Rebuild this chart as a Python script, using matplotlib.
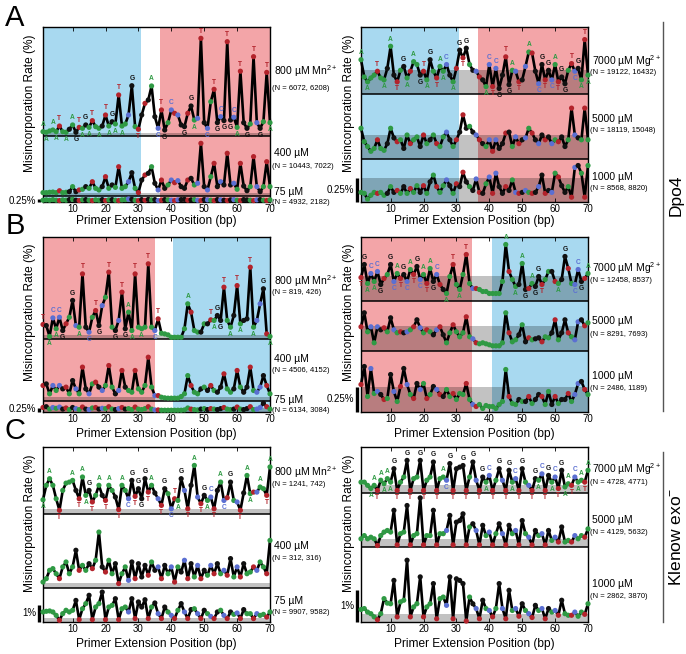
import matplotlib
matplotlib.use("Agg")
import matplotlib.pyplot as plt
import matplotlib.transforms as mtransforms
from matplotlib.lines import Line2D

plt.rcParams['font.family'] = ['Liberation Sans', 'DejaVu Sans']
plt.rcParams['mathtext.fontset'] = 'custom'
plt.rcParams['mathtext.rm'] = 'Liberation Sans'
plt.rcParams['mathtext.it'] = 'Liberation Sans:italic'
plt.rcParams['mathtext.bf'] = 'Liberation Sans:bold'

# ---------------- data ----------------
positions = list(range(1, 71))
xticks = [10, 20, 30, 40, 50, 60, 70]

seq_A = "AAAAATAAGAGTAGATAAGTAGATAACGATGTGAGCTGACTCGGTGACTGCATGCGTGCATGGATCGATA"
seq_B = "TGACACGTAGCATGCATGCATAGCTGAATAAATACTAAAAAAAAATAAGAGTAGGTAAGTAGGTACCGTA"
seq_C = "AAAAATAAAAGTAAGTAAGTAAGTAACGTGGGTAGCTGACTAGCTGACTGACTGACTGACTGAATCAATA"

# Row A, Dpo4 (Mn2+ left, Mg2+ right), misincorporation rate (%)
a_mn800 = [0.36,0.31,0.42,0.50,0.36,0.83,0.36,0.31,0.56,0.92,
           0.31,0.72,0.64,0.92,0.72,1.28,0.78,0.64,0.83,1.75,
           0.83,1.19,1.00,3.42,0.83,1.00,1.75,4.19,0.78,0.56,
           1.75,2.72,3.00,4.17,1.61,0.64,2.17,0.50,1.11,2.17,
           1.89,1.75,0.92,0.78,1.89,2.50,1.33,1.47,8.14,1.11,
           0.64,2.86,3.89,1.11,1.61,1.28,7.86,1.33,1.56,0.72,
           5.40,1.11,0.64,1.00,6.61,1.11,0.64,1.19,5.30,1.11]
a_mn400 = [0.28,0.28,0.31,0.33,0.28,0.44,0.28,0.31,0.36,0.78,
           0.36,0.50,0.56,0.78,0.64,1.19,0.64,0.50,0.78,1.61,
           0.64,0.92,0.72,2.44,0.64,0.78,1.19,1.94,0.64,0.28,
           1.33,1.75,1.89,2.44,1.06,0.50,1.33,0.64,0.92,1.33,
           1.11,1.28,0.78,0.64,1.33,1.47,0.92,1.06,4.39,0.78,
           0.50,1.61,2.72,0.78,1.19,0.92,3.56,0.92,1.06,0.56,
           2.72,0.83,0.44,0.78,3.28,0.78,0.36,0.78,2.86,0.78]
a_mn75 = [0.15,0.18,0.15,0.20,0.15,0.12,0.18,0.15,0.20,0.22,
          0.15,0.12,0.18,0.20,0.15,0.12,0.18,0.15,0.20,0.12,
          0.18,0.20,0.15,0.12,0.18,0.20,0.25,0.22,0.15,0.12,
          0.20,0.15,0.22,0.18,0.20,0.12,0.15,0.20,0.18,0.15,
          0.12,0.18,0.20,0.22,0.15,0.18,0.20,0.15,0.12,0.20,
          0.18,0.15,0.12,0.20,0.18,0.15,0.12,0.18,0.20,0.15,
          0.12,0.20,0.18,0.15,0.12,0.18,0.20,0.15,0.12,0.18]
a_mg7000 = [0.36,0.18,0.13,0.17,0.20,0.24,0.17,0.15,0.27,0.50,
            0.20,0.13,0.25,0.29,0.17,0.24,0.34,0.31,0.20,0.24,
            0.15,0.36,0.24,0.17,0.29,0.24,0.31,0.20,0.13,0.27,
            0.46,0.38,0.48,0.31,0.25,0.24,0.18,0.15,0.08,0.31,
            0.08,0.27,0.06,0.20,0.39,0.10,0.25,0.24,0.13,0.15,
            0.29,0.44,0.43,0.24,0.11,0.31,0.15,0.25,0.15,0.31,
            0.13,0.18,0.11,0.25,0.32,0.24,0.27,0.15,0.57,0.20]
a_mg5000 = [0.32,0.18,0.13,0.08,0.11,0.20,0.11,0.09,0.16,0.32,
            0.22,0.18,0.20,0.11,0.25,0.16,0.20,0.23,0.13,0.25,
            0.16,0.20,0.25,0.16,0.13,0.23,0.28,0.20,0.13,0.20,
            0.28,0.46,0.32,0.34,0.28,0.25,0.20,0.16,0.13,0.20,
            0.08,0.20,0.11,0.16,0.27,0.28,0.13,0.23,0.16,0.20,
            0.22,0.32,0.27,0.20,0.16,0.25,0.20,0.23,0.16,0.20,
            0.18,0.23,0.13,0.20,0.53,0.25,0.22,0.20,0.53,0.20]
a_mg1000 = [0.10,0.09,0.03,0.07,0.10,0.09,0.10,0.07,0.09,0.16,
            0.10,0.12,0.09,0.16,0.09,0.14,0.10,0.17,0.10,0.17,
            0.09,0.21,0.28,0.16,0.10,0.17,0.23,0.17,0.09,0.19,
            0.16,0.31,0.21,0.16,0.12,0.24,0.10,0.09,0.19,0.26,
            0.09,0.30,0.16,0.09,0.16,0.12,0.23,0.10,0.09,0.10,
            0.12,0.10,0.09,0.10,0.16,0.28,0.09,0.12,0.10,0.30,
            0.26,0.17,0.10,0.16,0.05,0.36,0.38,0.30,0.05,0.38]

# Row B, Dpo4 second template
b_mn800 = [0.90,0.83,0.15,1.31,0.63,1.35,0.52,0.94,1.35,2.40,
           0.83,0.73,4.06,0.73,0.42,1.35,1.77,0.83,2.08,2.60,
           4.17,0.73,0.52,1.15,2.92,0.63,1.67,0.52,4.06,0.73,
           0.63,0.73,4.69,0.73,0.52,1.25,0.35,0.31,0.25,0.10,
           0.10,0.10,0.10,0.63,2.19,1.67,0.52,0.42,0.42,0.94,
           0.94,1.19,1.15,1.46,1.15,3.23,1.15,0.73,1.46,3.33,
           0.94,1.15,1.25,4.48,0.73,1.15,2.19,3.13,0.31,0.15]
b_mn400 = [0.98,1.08,0.46,0.98,0.67,0.98,0.77,0.88,0.46,1.29,
           0.77,0.46,2.13,0.77,0.46,1.08,1.19,0.88,0.67,0.98,
           2.23,0.88,0.46,0.67,1.92,0.88,0.67,0.56,1.92,0.77,
           0.56,0.98,2.75,0.88,0.35,0.35,0.25,0.21,0.19,0.19,
           0.19,0.19,0.29,0.46,1.60,0.98,0.56,0.46,0.77,0.88,
           0.67,0.98,0.67,0.56,0.88,1.71,0.77,0.56,0.77,1.92,
           0.88,0.56,0.88,2.13,0.67,0.56,0.88,1.60,0.98,0.46]
b_mn75 = [0.25,0.30,0.15,0.25,0.20,0.28,0.15,0.22,0.12,0.25,
          0.18,0.12,0.28,0.15,0.12,0.22,0.25,0.15,0.20,0.18,
          0.30,0.15,0.12,0.18,0.25,0.15,0.18,0.12,0.28,0.15,
          0.12,0.18,0.30,0.15,0.10,0.10,0.08,0.08,0.08,0.08,
          0.08,0.08,0.08,0.10,0.22,0.15,0.12,0.10,0.15,0.18,
          0.12,0.18,0.15,0.12,0.18,0.25,0.15,0.12,0.15,0.28,
          0.15,0.12,0.18,0.30,0.12,0.15,0.25,0.52,0.30,0.15]
b_mg7000 = [0.23,0.36,0.17,0.27,0.19,0.29,0.16,0.22,0.26,0.36,
            0.19,0.27,0.22,0.26,0.19,0.31,0.26,0.34,0.21,0.26,
            0.17,0.32,0.19,0.26,0.16,0.11,0.07,0.24,0.36,0.16,
            0.11,0.26,0.46,0.17,0.12,0.12,0.11,0.09,0.09,0.07,
            0.07,0.07,0.07,0.19,0.56,0.29,0.21,0.14,0.16,0.37,
            0.11,0.12,0.17,0.14,0.24,0.16,0.21,0.29,0.29,0.19,
            0.17,0.21,0.44,0.32,0.17,0.16,0.31,0.19,0.22,0.27]
b_mg5000 = [0.24,0.38,0.19,0.24,0.08,0.24,0.21,0.23,0.19,0.33,
            0.21,0.18,0.19,0.18,0.19,0.21,0.24,0.31,0.23,0.18,
            0.21,0.19,0.16,0.21,0.24,0.16,0.08,0.18,0.26,0.19,
            0.14,0.18,0.34,0.14,0.12,0.08,0.07,0.08,0.07,0.06,
            0.05,0.05,0.05,0.08,0.38,0.18,0.09,0.11,0.16,0.26,
            0.09,0.13,0.11,0.12,0.13,0.09,0.14,0.13,0.18,0.31,
            0.11,0.18,0.31,0.18,0.14,0.11,0.29,0.31,0.25,0.28]
b_mg1000 = [0.27,0.45,0.15,0.43,0.18,0.20,0.17,0.12,0.13,0.37,
            0.20,0.10,0.25,0.43,0.27,0.17,0.13,0.28,0.22,0.28,
            0.13,0.17,0.25,0.22,0.17,0.15,0.22,0.15,0.18,0.12,
            0.18,0.17,0.28,0.12,0.07,0.05,0.07,0.03,0.06,0.05,
            0.05,0.03,0.07,0.10,0.42,0.15,0.08,0.07,0.12,0.10,
            0.10,0.15,0.08,0.12,0.17,0.15,0.07,0.20,0.07,0.15,
            0.08,0.12,0.12,0.18,0.10,0.17,0.28,0.30,0.22,0.17]

# Row C, Klenow exo-
c_mn800 = [0.82,1.67,2.06,1.67,0.88,0.20,1.37,1.80,1.86,1.96,
           1.37,0.88,2.16,1.08,1.37,0.69,1.08,1.67,1.08,0.78,
           1.67,1.37,0.98,0.24,1.67,1.37,0.88,1.96,1.02,1.47,
           0.88,2.06,1.27,1.67,1.22,0.88,0.49,1.47,1.18,0.29,
           0.88,0.78,2.06,1.37,0.29,1.67,2.84,0.98,0.59,1.08,
           0.78,0.98,0.29,1.37,1.86,0.78,0.94,1.86,0.78,0.69,
           0.20,1.22,2.25,1.18,1.27,1.27,1.57,1.47,1.08,2.75]
c_mn400 = [0.33,0.53,1.02,1.12,0.82,0.53,1.22,1.51,0.82,1.22,
           2.20,1.02,1.31,1.02,1.41,1.12,1.61,3.27,1.22,0.92,
           1.61,0.82,1.41,0.24,0.82,1.22,0.43,1.51,0.53,1.41,
           0.63,1.31,0.73,1.51,1.02,1.22,0.53,1.31,0.82,1.22,
           0.33,1.22,0.92,1.61,0.53,1.41,0.63,1.31,0.53,1.02,
           0.73,1.31,0.82,1.41,0.82,1.02,0.73,1.71,0.63,1.22,
           0.63,1.41,0.82,0.92,1.22,1.02,1.51,1.22,0.82,2.78]
c_mn75 = [0.59,0.63,0.65,0.59,0.39,0.10,0.49,0.69,0.59,0.69,
          1.27,0.14,0.78,1.08,1.57,0.14,0.88,1.08,1.76,0.14,
          0.88,0.98,1.37,0.14,0.78,0.88,0.59,1.37,0.20,1.18,
          0.88,1.31,0.20,0.88,1.12,0.49,0.20,0.88,0.59,0.39,
          0.20,0.69,1.08,0.59,0.20,0.73,0.78,0.49,0.20,0.69,
          0.49,0.33,0.20,0.59,0.69,0.39,0.20,0.59,0.45,0.53,
          0.20,0.73,0.49,0.49,0.20,0.49,0.39,0.45,0.29,0.59]
c_mg7000 = [0.34,0.34,0.24,0.14,0.24,0.08,0.40,0.29,0.45,0.34,
            0.76,0.08,0.34,0.50,1.02,0.08,0.45,0.50,1.02,0.08,
            0.40,0.50,0.97,0.08,0.45,0.50,0.40,0.92,0.08,0.76,
            0.81,0.86,0.08,0.50,0.97,0.40,0.08,0.50,0.34,0.55,
            0.08,0.40,0.76,0.40,0.08,0.71,0.34,0.45,0.08,0.76,
            0.34,0.24,0.08,0.45,0.40,0.60,0.08,0.55,0.34,0.50,
            0.14,0.71,0.19,0.29,0.24,0.50,0.34,0.40,0.34,0.71]
c_mg5000 = [0.26,0.36,0.26,0.31,0.26,0.05,0.36,0.47,0.52,0.47,
            1.15,0.07,0.42,0.47,1.30,0.07,0.36,0.42,1.54,0.07,
            0.36,0.36,1.15,0.07,0.42,0.42,0.52,0.99,0.07,0.78,
            0.83,1.04,0.07,0.63,0.73,0.52,0.07,0.68,0.36,0.47,
            0.07,0.42,0.73,0.42,0.07,0.68,0.42,0.52,0.07,0.83,
            0.42,0.31,0.07,0.52,0.36,0.42,0.07,0.52,0.21,0.31,
            0.16,0.63,0.16,0.21,0.16,0.36,0.26,0.36,0.31,0.57]
c_mg1000 = [0.39,0.42,0.31,0.26,0.16,0.07,0.26,0.73,0.59,0.57,
            1.30,0.16,0.63,0.68,1.93,0.16,0.47,0.57,1.41,0.16,
            0.47,0.57,1.20,0.10,0.73,0.78,0.52,1.41,0.10,1.35,
            1.30,1.20,0.03,0.78,0.57,0.42,0.10,0.68,0.42,0.36,
            0.16,0.42,1.20,0.42,0.10,0.99,0.36,0.42,0.18,0.57,
            0.36,0.26,0.14,0.52,0.36,0.42,0.10,0.42,0.31,0.36,
            0.21,0.68,0.26,0.21,0.21,0.31,0.18,0.31,0.24,0.57]

background_level = 0.25  # % (gray band)

labels_A_left = [("800 µM Mn$^{2+}$", "(N = 6072, 6208)"), ("400 µM", "(N = 10443, 7022)"), ("75 µM", "(N = 4932, 2182)")]
labels_A_right = [("7000 µM Mg$^{2+}$", "(N = 19122, 16432)"), ("5000 µM", "(N = 18119, 15048)"), ("1000 µM", "(N = 8568, 8820)")]
labels_B_left = [("800 µM Mn$^{2+}$", "(N = 819, 426)"), ("400 µM", "(N = 4506, 4152)"), ("75 µM", "(N = 6134, 3084)")]
labels_B_right = [("7000 µM Mg$^{2+}$", "(N = 12458, 8537)"), ("5000 µM", "(N = 8291, 7693)"), ("1000 µM", "(N = 2486, 1189)")]
labels_C_left = [("800 µM Mn$^{2+}$", "(N = 1241, 742)"), ("400 µM", "(N = 312, 316)"), ("75 µM", "(N = 9907, 9582)")]
labels_C_right = [("7000 µM Mg$^{2+}$", "(N = 4728, 4771)"), ("5000 µM", "(N = 4129, 5632)"), ("1000 µM", "(N = 2862, 3870)")]

# ---------------- style ----------------
W, H = 686, 654
base_colors = {'A': '#2f9a44', 'C': '#5b6fd2', 'G': '#111111', 'T': '#b3232b'}
BLUE = '#a8d9f0'
RED = '#f3a5a8'

fig = plt.figure(figsize=(W / 100, H / 100), dpi=100)


def add_axes(x0, ytop, w=227, h=175):
    return fig.add_axes([x0 / W, 1 - (ytop + h) / H, w / W, h / H])


def draw_panel(ax, p, seq, traces, bases, spans, scale_val, scale_txt):
    top = 175.0 / p
    ax.set_xlim(1, 70)
    ax.set_ylim(0, top)
    for (s0, s1, c) in spans:
        ax.axvspan(s0, s1, color=c, lw=0, zorder=0)
    cols = [base_colors[b] for b in seq]
    n = len(traces)
    for k, (vals, base) in enumerate(zip(traces, bases)):
        ax.axhspan(base, base + background_level, color='k', alpha=0.24, lw=0, zorder=1)
        if base > 0:
            ax.axhline(base, color='k', lw=1.1, zorder=2)
        y = [base + v for v in vals]
        ax.plot(positions, y, color='k', lw=1.9, zorder=3, clip_on=False,
                solid_joinstyle='round')
        ax.scatter(positions, y, s=14, c=cols, zorder=4, lw=0, clip_on=False)
        if k == n - 1:
            # base letters at local peaks (above) and troughs (below)
            for i in range(len(y)):
                prev = y[i - 1] if i > 0 else None
                nxt = y[i + 1] if i < len(y) - 1 else None
                nb = [v for v in (prev, nxt) if v is not None]
                if all(y[i] > v for v in nb):
                    above = True
                elif all(y[i] < v for v in nb):
                    above = False
                else:
                    continue
                ax.annotate(seq[i], (positions[i], y[i]),
                            xytext=(0, 2.6 if above else -2.6), textcoords='offset points',
                            ha='center', va='bottom' if above else 'top',
                            fontsize=4.8, fontweight='bold', color=cols[i], zorder=5)
    ax.set_yticks([])
    ax.set_xticks(xticks)
    ax.tick_params(axis='x', direction='in', length=3, width=0.6, top=True,
                   labelsize=7, pad=1.5)
    for sp in ax.spines.values():
        sp.set_linewidth(1.0)
    trans = mtransforms.blended_transform_factory(ax.transAxes, ax.transData)
    bx = -4.0 / 227
    ax.plot([bx, bx], [0, scale_val], transform=trans, color='k', lw=2.4,
            clip_on=False, solid_capstyle='butt')
    ax.text(bx - 0.012, scale_val / 2.0, scale_txt, transform=trans,
            ha='right', va='center', fontsize=7)


def conc_labels(x_right, labels, ys):
    for (main, nt), (ym, yn) in zip(labels, ys):
        fig.text((x_right + 4) / W, 1 - ym / H, main, fontsize=7.5, ha='left', va='center')
        fig.text((x_right + 2) / W, 1 - yn / H, nt, fontsize=5.5, ha='left', va='center')


LX, RX = 43, 361
rows = [
    # axes top (px), xlabel centre (px)
    (27, 221),
    (236.5, 434),
    (447, 644),
]

# Row A
axAL = add_axes(LX, 27)
draw_panel(axAL, 12.0, seq_A, [a_mn75, a_mn400, a_mn800], [0.0, 0.5, 5.5],
           [(1, 30.7, BLUE), (36.6, 70, RED)], 0.25, "0.25%")
axAR = add_axes(RX, 27)
draw_panel(axAR, 96.0, seq_A, [a_mg1000, a_mg5000, a_mg7000], [0.0, 0.448, 1.122],
           [(1, 30.7, BLUE), (36.7, 70, RED)], 0.25, "0.25%")
# Row B
axBL = add_axes(LX, 236.5)
draw_panel(axBL, 16.0, seq_B, [b_mn75, b_mn400, b_mn800], [0.0, 0.644, 4.54],
           [(1, 35.0, RED), (40.6, 70, BLUE)], 0.25, "0.25%")
axBR = add_axes(RX, 236.5)
draw_panel(axBR, 100.0, seq_B, [b_mg1000, b_mg5000, b_mg7000], [0.0, 0.607, 1.11],
           [(1, 34.7, RED), (40.8, 70, BLUE)], 0.25, "0.25%")
# Row C
axCL = add_axes(LX, 447)
draw_panel(axCL, 17.0, seq_C, [c_mn75, c_mn400, c_mn800], [0.0, 2.02, 6.37],
           [], 1.0, "1%")
axCR = add_axes(RX, 447)
draw_panel(axCR, 32.0, seq_C, [c_mg1000, c_mg5000, c_mg7000], [0.0, 2.34, 4.03],
           [], 1.0, "1%")

for (ytop, xly) in rows:
    for x0 in (LX, RX):
        fig.text((x0 + 113.5) / W, 1 - xly / H, "Primer Extension Position (bp)",
                 fontsize=8.6, ha='center', va='center')
    fig.text(30 / W, 1 - (ytop + 76) / H, "Misincorporation Rate (%)",
             rotation=90, fontsize=8.6, ha='center', va='center')
    fig.text(349 / W, 1 - (ytop + 76) / H, "Misincorporation Rate (%)",
             rotation=90, fontsize=8.6, ha='center', va='center')

conc_labels(270, labels_A_left, [(71, 89), (153, 166), (192, 202)])
conc_labels(588, labels_A_right, [(61, 73), (119, 130), (177, 189)])
conc_labels(270, labels_B_left, [(281, 293), (359, 371), (400, 410.5)])
conc_labels(588, labels_B_right, [(268, 281), (321, 334), (376, 389)])
conc_labels(270, labels_C_left, [(472, 484), (546, 558), (601, 613)])
conc_labels(588, labels_C_right, [(469, 482), (520, 532), (584, 596)])

for letter, yc in (("A", 18), ("B", 226), ("C", 431)):
    fig.text(15 / W, 1 - yc / H, letter, fontsize=21, ha='center', va='center')

fig.add_artist(Line2D([663 / W, 663 / W], [1 - 22 / H, 1 - 411 / H], color='#555555', lw=1.0))
fig.add_artist(Line2D([663 / W, 663 / W], [1 - 452 / H, 1 - 622 / H], color='#555555', lw=1.0))
fig.text(676 / W, 1 - 195 / H, "Dpo4", rotation=90, fontsize=12.5, ha='center', va='center')
fig.text(676 / W, 1 - 537 / H, "Klenow exo$^{-}$", rotation=90, fontsize=12.5, ha='center', va='center')

fig.savefig("out.png", dpi=100)
